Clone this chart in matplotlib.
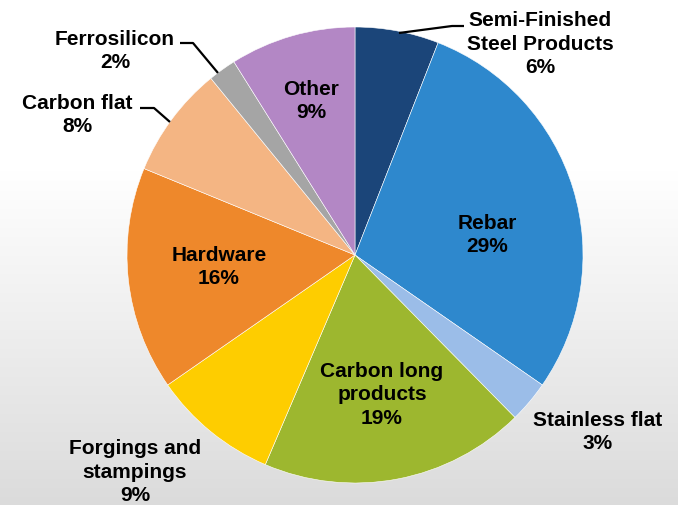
import matplotlib
matplotlib.use('Agg')
import matplotlib.pyplot as plt
import numpy as np

# Shipment mix by product segment (percent of total)
labels = ['Semi-Finished\nSteel Products', 'Rebar', 'Stainless flat',
          'Carbon long\nproducts', 'Forgings and\nstampings', 'Hardware',
          'Carbon flat', 'Ferrosilicon', 'Other']
shares = [6, 29, 3, 19, 9, 16, 8, 2, 9]
colors = ['#1b4579', '#2e88cd', '#9bbde8', '#9db72f', '#fecd00',
          '#ee882b', '#f4b583', '#a5a5a5', '#b387c5']

# label anchor points in pixel space (x, y from top)
label_pos = [(540, 44), (487, 235), (598, 432), (382, 395), (135, 472),
             (219, 267), (77, 115), (115, 51), (311, 101)]

W, H = 678, 505
fig = plt.figure(figsize=(W / 100, H / 100), dpi=100)
ax = fig.add_axes([0, 0, 1, 1])

# light grey to white vertical fade behind the chart
rows = np.linspace(0, 1, 256)
shade = np.clip(1 - rows / 0.66, 0, 1)
grey = 1 - 0.14 * shade
bg = np.dstack([grey, grey, grey]).reshape(256, 1, 3)
ax.imshow(bg, extent=[0, W, H, 0], aspect='auto', zorder=0)

cx, cy, r = 355, H - 255, 228
ax.pie(shares, colors=colors, startangle=90, counterclock=False,
       center=(cx, cy), radius=r, frame=True,
       wedgeprops=dict(edgecolor='white', linewidth=0.4))
ax.set_xlim(0, W)
ax.set_ylim(0, H)
ax.set_aspect('equal')
ax.axis('off')

for lab, val, (px, py) in zip(labels, shares, label_pos):
    ax.text(px, H - py, f'{lab}\n{val}%', ha='center', va='center',
            fontsize=15, fontweight='bold', family='Liberation Sans',
            linespacing=1.3, color='black', zorder=5)

# leader lines for the small outer labels
leaders = [
    [(399, 33), (452, 26), (464, 26)],
    [(180, 43), (193, 43), (218, 73)],
    [(140, 108), (154, 108), (170, 122)],
]
for pts in leaders:
    xs = [p[0] for p in pts]
    ys = [H - p[1] for p in pts]
    ax.plot(xs, ys, color='black', lw=1.6, zorder=4, solid_capstyle='butt')

fig.savefig('out.png', dpi=100)
